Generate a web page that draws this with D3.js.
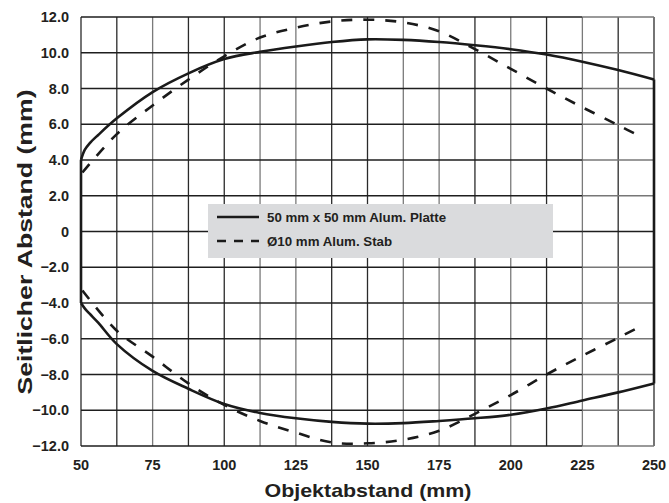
<!DOCTYPE html>
<html>
<head>
<meta charset="utf-8">
<script src="https://cdn.jsdelivr.net/npm/d3@7"></script>
<style>
  body { margin: 0; background: #fff; }
  text { font-family: "Liberation Sans", Arial, Helvetica, sans-serif; font-weight: bold; fill: #231f20; }
</style>
</head>
<body>
<div id="chart"></div>
<script>
// x positions (Objektabstand, mm)
const solidX = [50, 51.3, 53, 56, 62.5, 75, 87.5, 100, 112.5, 125, 137.5, 150, 162.5, 175, 187.5, 200, 212.5, 225, 237.5, 250];
const solidTop = [4.0, 4.56, 4.93, 5.4, 6.33, 7.8, 8.85, 9.65, 10.05, 10.35, 10.6, 10.75, 10.72, 10.6, 10.42, 10.2, 9.9, 9.5, 9.03, 8.5];
const solidBottom = [-4.0, -4.3, -4.6, -5.1, -6.3, -7.8, -8.8, -9.65, -10.15, -10.45, -10.65, -10.75, -10.72, -10.6, -10.45, -10.25, -9.9, -9.45, -9.0, -8.5];

const dashX = [50.5, 62.5, 75, 87.5, 100, 112.5, 125, 137.5, 150, 162.5, 175, 187.5, 200, 212.5, 225, 237.5, 246];
const dashTop = [3.3, 5.45, 7.05, 8.5, 9.8, 10.85, 11.4, 11.75, 11.85, 11.7, 11.2, 10.2, 9.1, 8.0, 6.95, 5.95, 5.25];
const dashBottom = [-3.3, -5.55, -7.0, -8.5, -9.7, -10.6, -11.25, -11.8, -11.85, -11.65, -11.15, -10.2, -9.15, -8.0, -6.95, -5.95, -5.25];

const xTicks = [50, 75, 100, 125, 150, 175, 200, 225, 250];
const yTicks = [12, 10, 8, 6, 4, 2, 0, -2, -4, -6, -8, -10, -12];
const legendLabels = ["50 mm x 50 mm Alum. Platte", "Ø10 mm Alum. Stab"];

const width = 669;
const height = 503;

const svg = d3.select("#chart")
  .append("svg")
  .attr("width", width)
  .attr("height", height);

const x = d3.scaleLinear().domain([50, 250]).range([81, 654]);
const y = d3.scaleLinear().domain([-12, 12]).range([446, 17]);

// grid: vertical every 12.5 mm, horizontal every 2 mm
const vLines = d3.range(50, 250.1, 12.5);
const hLines = d3.range(-12, 12.1, 2);

const grid = svg.append("g").attr("class", "grid");

grid.selectAll("line.v").data(vLines).enter()
  .append("line")
  .attr("class", "v")
  .attr("x1", d => x(d)).attr("x2", d => x(d))
  .attr("y1", y(12)).attr("y2", y(-12))
  .attr("stroke", (d, i) => [2, 5, 6, 9, 10, 12, 14].includes(i) ? "#7a7a7a" : "#2a2a2a")
  .attr("stroke-width", 1.3);

grid.selectAll("line.h").data(hLines).enter()
  .append("line")
  .attr("class", "h")
  .attr("x1", x(50)).attr("x2", x(225))
  .attr("y1", d => y(d)).attr("y2", d => y(d))
  .attr("stroke", "#1e1e1e")
  .attr("stroke-width", 1.4);

grid.selectAll("line.h2").data(hLines).enter()
  .append("line")
  .attr("class", "h2")
  .attr("x1", x(225)).attr("x2", x(250))
  .attr("y1", d => y(d)).attr("y2", d => y(d))
  .attr("stroke", d => d === 0 ? "#1e1e1e" : "#777")
  .attr("stroke-width", 1.4);

// legend box
const legend = svg.append("g").attr("class", "legend");
legend.append("rect")
  .attr("x", 208).attr("y", 204)
  .attr("width", 345).attr("height", 54)
  .attr("fill", "#dadbdd");

legend.selectAll("line").data(legendLabels).enter()
  .append("line")
  .attr("x1", 217).attr("x2", 259)
  .attr("y1", (d, i) => 217 + i * 24).attr("y2", (d, i) => 217 + i * 24)
  .attr("stroke", "#1a1a1a")
  .attr("stroke-width", 2.6)
  .attr("stroke-dasharray", (d, i) => i === 1 ? "9,8" : null);

legend.selectAll("text").data(legendLabels).enter()
  .append("text")
  .attr("x", 267)
  .attr("y", (d, i) => 221.5 + i * 24)
  .attr("font-size", 13.3)
  .text(d => d);

// curves
const line = (xs) => d3.line()
  .x((d, i) => x(xs[i]))
  .y(d => y(d))
  .curve(d3.curveCatmullRom.alpha(0.5));

const curves = svg.append("g").attr("class", "curves");

curves.append("path")
  .attr("d", line(solidX)(solidTop))
  .attr("fill", "none").attr("stroke", "#1a1a1a").attr("stroke-width", 2.6);

curves.append("path")
  .attr("d", line(solidX)(solidBottom))
  .attr("fill", "none").attr("stroke", "#1a1a1a").attr("stroke-width", 2.6);

// closing edges of the solid envelope
const solidLast = solidX.length - 1;
curves.selectAll("line.edge").data([
  { x: solidX[0], y1: solidTop[0], y2: solidBottom[0] },
  { x: solidX[solidLast], y1: solidTop[solidLast], y2: solidBottom[solidLast] }
]).enter()
  .append("line")
  .attr("class", "edge")
  .attr("x1", d => x(d.x)).attr("x2", d => x(d.x))
  .attr("y1", d => y(d.y1)).attr("y2", d => y(d.y2))
  .attr("stroke", "#1a1a1a").attr("stroke-width", 2.6);

curves.append("path")
  .attr("d", line(dashX)(dashTop))
  .attr("fill", "none").attr("stroke", "#1a1a1a").attr("stroke-width", 2.6)
  .attr("stroke-dasharray", "11,11");

curves.append("path")
  .attr("d", line(dashX)(dashBottom))
  .attr("fill", "none").attr("stroke", "#1a1a1a").attr("stroke-width", 2.6)
  .attr("stroke-dasharray", "11,11");

// tick labels
svg.append("g").selectAll("text").data(yTicks).enter()
  .append("text")
  .attr("x", 69)
  .attr("y", d => y(d))
  .attr("dy", "0.36em")
  .attr("text-anchor", "end")
  .attr("font-size", 14.5)
  .text(d => d === 0 ? "0" : d3.format(".1f")(d));

svg.append("g").selectAll("text").data(xTicks).enter()
  .append("text")
  .attr("x", d => x(d))
  .attr("y", 470)
  .attr("text-anchor", "middle")
  .attr("font-size", 14.5)
  .text(d => d);

// axis titles
svg.append("text")
  .attr("x", 368)
  .attr("y", 497)
  .attr("text-anchor", "middle")
  .attr("font-size", 18.5)
  .attr("textLength", 207)
  .attr("lengthAdjust", "spacingAndGlyphs")
  .text("Objektabstand (mm)");

svg.append("text")
  .attr("transform", "translate(32,242) rotate(-90)")
  .attr("text-anchor", "middle")
  .attr("font-size", 20)
  .attr("textLength", 305)
  .attr("lengthAdjust", "spacingAndGlyphs")
  .text("Seitlicher Abstand (mm)");
</script>
</body>
</html>
